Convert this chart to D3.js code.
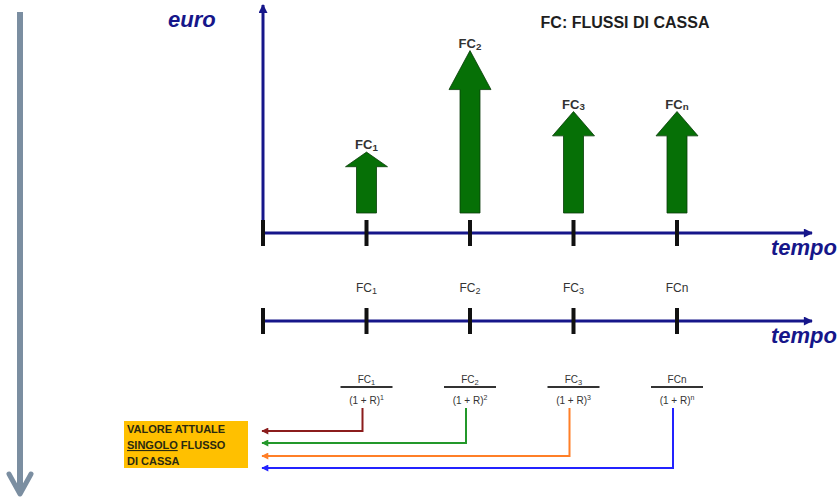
<!DOCTYPE html>
<html>
<head>
<meta charset="utf-8">
<script src="https://cdn.jsdelivr.net/npm/d3@7"></script>
<style>
  html, body { margin: 0; padding: 0; background: #fff; }
  svg { display: block; font-family: "Liberation Sans", Arial, sans-serif; }
</style>
</head>
<body>
<svg id="chart" width="838" height="501"></svg>
<script>
'use strict';

// periods on the time line (0 = today)
var periods = [0, 1, 2, 3, 4];
var flowNames = ['1', '2', '3', 'n'];      // subscripts of FC
var flowValues = [3, 8, 5, 5];             // arrow heights (euro)
var exponents = ['1', '2', '3', 'n'];
var linkColors = ['#8b1c1c', '#23982a', '#ff7f27', '#2323ff'];
var boxLines = ['VALORE ATTUALE', 'SINGOLO FLUSSO', 'DI CASSA'];

var navy = '#16168a';
var svg = d3.select('#chart');

var x = d3.scaleLinear().domain([0, 4]).range([263, 677]);
var y = d3.scaleLinear().domain([0, 10]).range([213, 10]);

var defs = svg.append('defs');
function marker(id, color, w, h) {
	defs.append('marker')
		.attr('id', id)
		.attr('viewBox', '0 0 10 10')
		.attr('refX', 9).attr('refY', 5)
		.attr('markerWidth', w).attr('markerHeight', h)
		.attr('markerUnits', 'userSpaceOnUse')
		.attr('orient', 'auto')
		.append('path')
			.attr('d', 'M0,0 L10,5 L0,10 Z')
			.attr('fill', color);
}
marker('ax', navy, 12, 9);
linkColors.forEach(function(c, i) { marker('lk' + i, c, 9, 7); });

// left grey arrow
svg.append('line')
	.attr('x1', 20).attr('y1', 12).attr('x2', 20).attr('y2', 494)
	.attr('stroke', '#7b8ea1').attr('stroke-width', 6);
svg.append('path')
	.attr('d', 'M9,474 L20,494 L31,474')
	.attr('fill', 'none').attr('stroke', '#7b8ea1')
	.attr('stroke-width', 5).attr('stroke-linecap', 'round').attr('stroke-linejoin', 'round');

// euro axis
svg.append('line')
	.attr('x1', x(0)).attr('y1', 235).attr('x2', x(0)).attr('y2', 5)
	.attr('stroke', navy).attr('stroke-width', 3)
	.attr('marker-end', 'url(#ax)');
svg.append('text')
	.attr('x', 168).attr('y', 27)
	.attr('font-size', 22).attr('font-weight', 'bold').attr('font-style', 'italic')
	.attr('fill', navy).text('euro');

svg.append('text')
	.attr('x', 625).attr('y', 28)
	.attr('text-anchor', 'middle')
	.attr('font-size', 16).attr('font-weight', 'bold')
	.attr('fill', '#1e1e1e').text('FC: FLUSSI DI CASSA');

// time axes
function timeAxis(ay) {
	var g = svg.append('g');
	g.append('line')
		.attr('x1', x(0)).attr('y1', ay).attr('x2', 812).attr('y2', ay)
		.attr('stroke', navy).attr('stroke-width', 3)
		.attr('marker-end', 'url(#ax)');
	g.selectAll('line.tick')
		.data(periods)
		.enter()
		.append('line')
			.classed('tick', true)
			.attr('x1', function(d) { return x(d); })
			.attr('x2', function(d) { return x(d); })
			.attr('y1', ay - 13).attr('y2', ay + 13)
			.attr('stroke', '#111').attr('stroke-width', 4);
	g.append('text')
		.attr('x', 771).attr('y', ay + 22)
		.attr('font-size', 22).attr('font-weight', 'bold').attr('font-style', 'italic')
		.attr('fill', navy).text('tempo');
	return g;
}
timeAxis(233);
timeAxis(321);

// FC label with subscript (the "n" stays full size when fullN is set)
function fcLabel(sel, size, fullN) {
	sel.append('tspan').text(function(d, i) {
		return fullN && flowNames[i] === 'n' ? 'FCn' : 'FC';
	});
	sel.filter(function(d, i) { return !(fullN && flowNames[i] === 'n'); })
		.append('tspan')
		.attr('font-size', size * 0.75)
		.attr('dy', size * 0.15)
		.text(function(d, i) { return flowNames[flowValues.indexOf(d) >= 0 ? i : i]; });
}

// green arrows
var flows = svg.append('g').selectAll('g')
	.data(flowValues)
	.enter()
	.append('g');

flows.append('path')
	.attr('d', function(d, i) {
		var cx = x(i + 1), b = y(0), t = y(d);
		var head = (b - t) * 0.24;
		return 'M' + (cx - 10) + ',' + b
			+ 'L' + (cx - 10) + ',' + (t + head)
			+ 'L' + (cx - 21) + ',' + (t + head)
			+ 'L' + cx + ',' + t
			+ 'L' + (cx + 21) + ',' + (t + head)
			+ 'L' + (cx + 10) + ',' + (t + head)
			+ 'L' + (cx + 10) + ',' + b + 'Z';
	})
	.attr('fill', '#067006')
	.attr('stroke', '#0a3d0a').attr('stroke-width', 0.8);

flows.append('text')
	.attr('x', function(d, i) { return x(i + 1); })
	.attr('y', function(d) { return y(d) - 3; })
	.attr('text-anchor', 'middle')
	.attr('font-size', 13).attr('font-weight', 'bold')
	.attr('fill', '#333')
	.call(fcLabel, 13, false);

// labels above the second time line
svg.append('g').selectAll('text')
	.data(flowValues)
	.enter()
	.append('text')
		.attr('x', function(d, i) { return x(i + 1); })
		.attr('y', 292)
		.attr('text-anchor', 'middle')
		.attr('font-size', 12)
		.attr('fill', '#333')
		.call(fcLabel, 12, true);

// discount fractions
var frac = svg.append('g').selectAll('g')
	.data(exponents)
	.enter()
	.append('g')
		.attr('transform', function(d, i) { return 'translate(' + x(i + 1) + ',0)'; });

frac.append('text')
	.attr('y', 383).attr('text-anchor', 'middle')
	.attr('font-size', 10).attr('fill', '#333')
	.call(fcLabel, 10, true);
frac.append('line')
	.attr('x1', -26).attr('x2', 26).attr('y1', 387).attr('y2', 387)
	.attr('stroke', '#333').attr('stroke-width', 2);
frac.append('text')
	.attr('y', 404).attr('text-anchor', 'middle')
	.attr('font-size', 10).attr('fill', '#333')
	.each(function(d) {
		var t = d3.select(this);
		t.append('tspan').text('(1 + R)');
		t.append('tspan').attr('font-size', 7).attr('dy', -4).text(d);
	});

// connectors to the present value box
var linkY = [431, 443, 456, 468];
var line = d3.line();
svg.append('g').selectAll('path')
	.data(linkY)
	.enter()
	.append('path')
		.attr('d', function(d, i) {
			var cx = x(i + 1) - 4;
			return line([[cx, 408], [cx, d], [262, d]]);
		})
		.attr('fill', 'none')
		.attr('stroke', function(d, i) { return linkColors[i]; })
		.attr('stroke-width', 2)
		.attr('marker-end', function(d, i) { return 'url(#lk' + i + ')'; });

// yellow box
svg.append('rect')
	.attr('x', 124).attr('y', 421).attr('width', 124).attr('height', 47)
	.attr('fill', '#ffc000');
svg.append('g').selectAll('text')
	.data(boxLines)
	.enter()
	.append('text')
		.attr('x', 127)
		.attr('y', function(d, i) { return 433 + i * 16; })
		.attr('font-size', 11).attr('font-weight', 'bold')
		.attr('fill', '#2a2a10')
		.each(function(d, i) {
			var t = d3.select(this);
			if (i === 1) {
				var parts = d.split(' ');
				t.append('tspan').attr('text-decoration', 'underline').text(parts[0]);
				t.append('tspan').text(' ' + parts[1]);
			} else {
				t.text(d);
			}
		});
</script>
</body>
</html>
